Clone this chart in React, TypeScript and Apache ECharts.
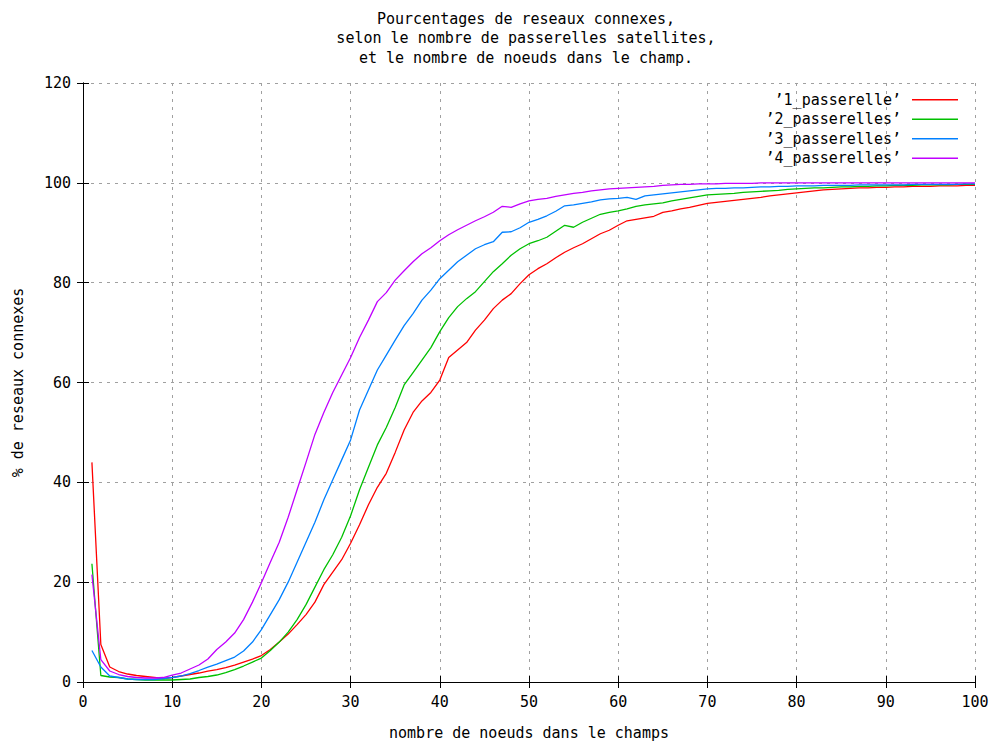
import React, { useEffect, useRef } from "react";
import * as echarts from "echarts";

const xs: number[] = Array.from({ length: 100 }, (_, i) => i + 1);

const red = [44, 7.5, 3.0, 2.1, 1.6, 1.3, 1.1, 0.9, 0.7, 0.9,
  1.2, 1.5, 1.8, 2.2, 2.5, 2.9, 3.4, 4.0, 4.6, 5.3,
  6.5, 8.0, 9.6, 11.5, 13.5, 16.0, 19.5, 22.0, 24.5, 27.8,
  31.5, 35.5, 39.0, 41.8, 46.0, 50.5, 54.0, 56.3, 58.0, 60.5,
  65.0, 66.5, 68.0, 70.5, 72.5, 74.8, 76.5, 77.8, 79.8, 81.6,
  82.8, 83.8, 85.0, 86.1, 87.0, 87.8, 88.8, 89.8, 90.5, 91.5,
  92.4, 92.7, 93.0, 93.3, 94.1, 94.4, 94.8, 95.1, 95.5, 95.9,
  96.1, 96.3, 96.5, 96.7, 96.9, 97.1, 97.4, 97.6, 97.8, 98.0,
  98.2, 98.4, 98.6, 98.7, 98.8, 98.9, 99.0, 99.0, 99.1, 99.1,
  99.2, 99.2, 99.3, 99.3, 99.3, 99.4, 99.4, 99.4, 99.5, 99.5];

const green = [23.7, 1.3, 1.0, 0.9, 0.6, 0.5, 0.4, 0.4, 0.4, 0.4,
  0.5, 0.6, 0.9, 1.1, 1.4, 1.9, 2.5, 3.2, 4.0, 4.8,
  6.3, 8.0, 10.0, 12.5, 15.5, 19.0, 22.5, 25.5, 29.0, 33.3,
  38.5, 43.0, 47.5, 51.0, 55.0, 59.5, 62.0, 64.5, 67.0, 70.2,
  73.0, 75.2, 76.8, 78.2, 80.2, 82.2, 83.8, 85.5, 86.8, 87.8,
  88.4, 89.1, 90.3, 91.5, 91.1, 92.1, 92.9, 93.7, 94.1, 94.4,
  94.8, 95.3, 95.6, 95.8, 96.0, 96.4, 96.7, 97.0, 97.3, 97.6,
  97.7, 97.8, 97.9, 98.1, 98.2, 98.3, 98.4, 98.5, 98.7, 98.8,
  98.9, 99.0, 99.0, 99.1, 99.2, 99.2, 99.3, 99.3, 99.4, 99.4,
  99.5, 99.5, 99.5, 99.6, 99.6, 99.6, 99.6, 99.7, 99.7, 99.7];

const blue = [6.3, 3.0, 1.2, 0.9, 0.6, 0.5, 0.5, 0.5, 0.7, 0.9,
  1.2, 1.7, 2.3, 3.0, 3.6, 4.3, 5.0, 6.2, 8.0, 10.5,
  13.5, 16.5, 20.0, 24.0, 28.0, 32.0, 36.5, 40.5, 44.5, 48.5,
  54.5, 58.5, 62.5, 65.5, 68.5, 71.4, 73.8, 76.5, 78.5, 80.8,
  82.5, 84.2, 85.5, 86.8, 87.6, 88.2, 90.1, 90.2, 91.0, 92.1,
  92.7, 93.4, 94.3, 95.4, 95.6, 95.9, 96.2, 96.6, 96.8, 96.9,
  97.1, 96.7, 97.4, 97.6, 97.8, 98.0, 98.2, 98.4, 98.6, 98.8,
  98.9, 98.9, 99.0, 99.0, 99.1, 99.2, 99.2, 99.3, 99.3, 99.4,
  99.4, 99.4, 99.5, 99.5, 99.5, 99.5, 99.6, 99.6, 99.6, 99.6,
  99.6, 99.6, 99.7, 99.7, 99.7, 99.7, 99.7, 99.7, 99.8, 99.8];

const purple = [21.5, 4.5, 2.2, 1.5, 1.1, 0.9, 0.8, 0.8, 0.9, 1.4,
  1.8, 2.6, 3.4, 4.6, 6.5, 8.0, 9.8, 12.5, 16.0, 19.9,
  24.0, 28.0, 33.0, 38.5, 44.0, 49.6, 54.0, 58.0, 61.5, 65.0,
  69.0, 72.5, 76.2, 78.0, 80.5, 82.4, 84.2, 85.8, 87.0, 88.4,
  89.6, 90.6, 91.5, 92.4, 93.2, 94.1, 95.3, 95.1, 95.8, 96.4,
  96.7, 96.9, 97.3, 97.6, 97.9, 98.1, 98.4, 98.6, 98.8, 98.9,
  99.0, 99.1, 99.2, 99.3, 99.5, 99.6, 99.7, 99.7, 99.8, 99.8,
  99.8, 99.9, 99.9, 99.9, 99.9, 100, 100, 100, 100, 100,
  100, 100, 100, 100, 100, 100, 100, 100, 100, 100,
  100, 100, 100, 100, 100, 100, 100, 100, 100, 100];

const seriesNames = ["\u20191_passerelle\u2019", "\u20192_passerelles\u2019", "\u20193_passerelles\u2019", "\u20194_passerelles\u2019"];
const seriesValues = [red, green, blue, purple];
const seriesColors = ["#ff0000", "#00c000", "#0080ff", "#c000ff"];

const titleLines = [
  "Pourcentages de reseaux connexes,",
  "selon le nombre de passerelles satellites,",
  "et le nombre de noeuds dans le champ.",
];
const xName = "nombre de noeuds dans le champs";
const yName = "% de reseaux connexes";

const FONT = "'DejaVu Sans Mono', monospace";

export default function App() {
  const ref = useRef<HTMLDivElement>(null);
  useEffect(() => {
    if (!ref.current) return;
    const chart = echarts.init(ref.current, null, { renderer: "svg" });
    const axisCommon = {
      type: "value" as const,
      axisLine: { show: true, lineStyle: { color: "#000", width: 1 } },
      axisTick: { show: true, inside: true, length: 6, lineStyle: { color: "#000" } },
    };
    chart.setOption({
      animation: false,
      backgroundColor: "#fff",
      textStyle: { fontFamily: FONT },
      graphic: [
        {
          type: "text",
          x: 526,
          y: 9,
          style: {
            text: titleLines.join("\n"),
            font: `15px ${FONT}`,
            fill: "#000",
            align: "center",
            lineHeight: 19.5,
          },
        },
      ],
      legend: {
        orient: "vertical",
        right: 37,
        top: 90,
        padding: 0,
        itemGap: 0,
        align: "right",
        icon: "rect",
        itemWidth: 46,
        itemHeight: 1.5,
        textStyle: { fontFamily: FONT, fontSize: 15, color: "#000", lineHeight: 19.5, padding: [0, 6, 0, 0] },
        data: seriesNames,
      },
      grid: { left: 83, right: 20, top: 83, bottom: 59, containLabel: false },
      xAxis: [
        {
          ...axisCommon,
          min: 0,
          max: 100,
          interval: 10,
          position: "bottom",
          name: xName,
          nameLocation: "middle",
          nameGap: 43,
          nameTextStyle: { fontFamily: FONT, fontSize: 15, color: "#000" },
          axisLabel: { fontFamily: FONT, fontSize: 15, color: "#000", margin: 12 },
          splitLine: { show: true, lineStyle: { color: "#a0a0a0", type: [3, 5], width: 1 } },
        },
        {
          ...axisCommon,
          min: 0,
          max: 100,
          interval: 10,
          position: "top",
          axisLabel: { show: false },
          splitLine: { show: false },
        },
      ],
      yAxis: [
        {
          ...axisCommon,
          min: 0,
          max: 120,
          interval: 20,
          position: "left",
          name: yName,
          nameLocation: "middle",
          nameRotate: 90,
          nameGap: 58,
          nameTextStyle: { fontFamily: FONT, fontSize: 15, color: "#000" },
          axisLabel: { fontFamily: FONT, fontSize: 15, color: "#000", margin: 12 },
          splitLine: { show: true, lineStyle: { color: "#a0a0a0", type: [3, 5], width: 1 } },
        },
        {
          ...axisCommon,
          min: 0,
          max: 120,
          interval: 20,
          position: "right",
          axisLabel: { show: false },
          splitLine: { show: false },
        },
      ],
      series: seriesNames.map((name, i) => ({
        name,
        type: "line",
        xAxisIndex: 0,
        yAxisIndex: 0,
        showSymbol: false,
        symbol: "none",
        color: seriesColors[i],
        lineStyle: { color: seriesColors[i], width: 1.3 },
        data: xs.map((x, j) => [x, seriesValues[i][j]]),
      })),
    });
    return () => chart.dispose();
  }, []);
  return (
    <div
      ref={ref}
      style={{ position: "fixed", left: 0, top: 0, width: 995, height: 745, background: "#fff" }}
    />
  );
}
